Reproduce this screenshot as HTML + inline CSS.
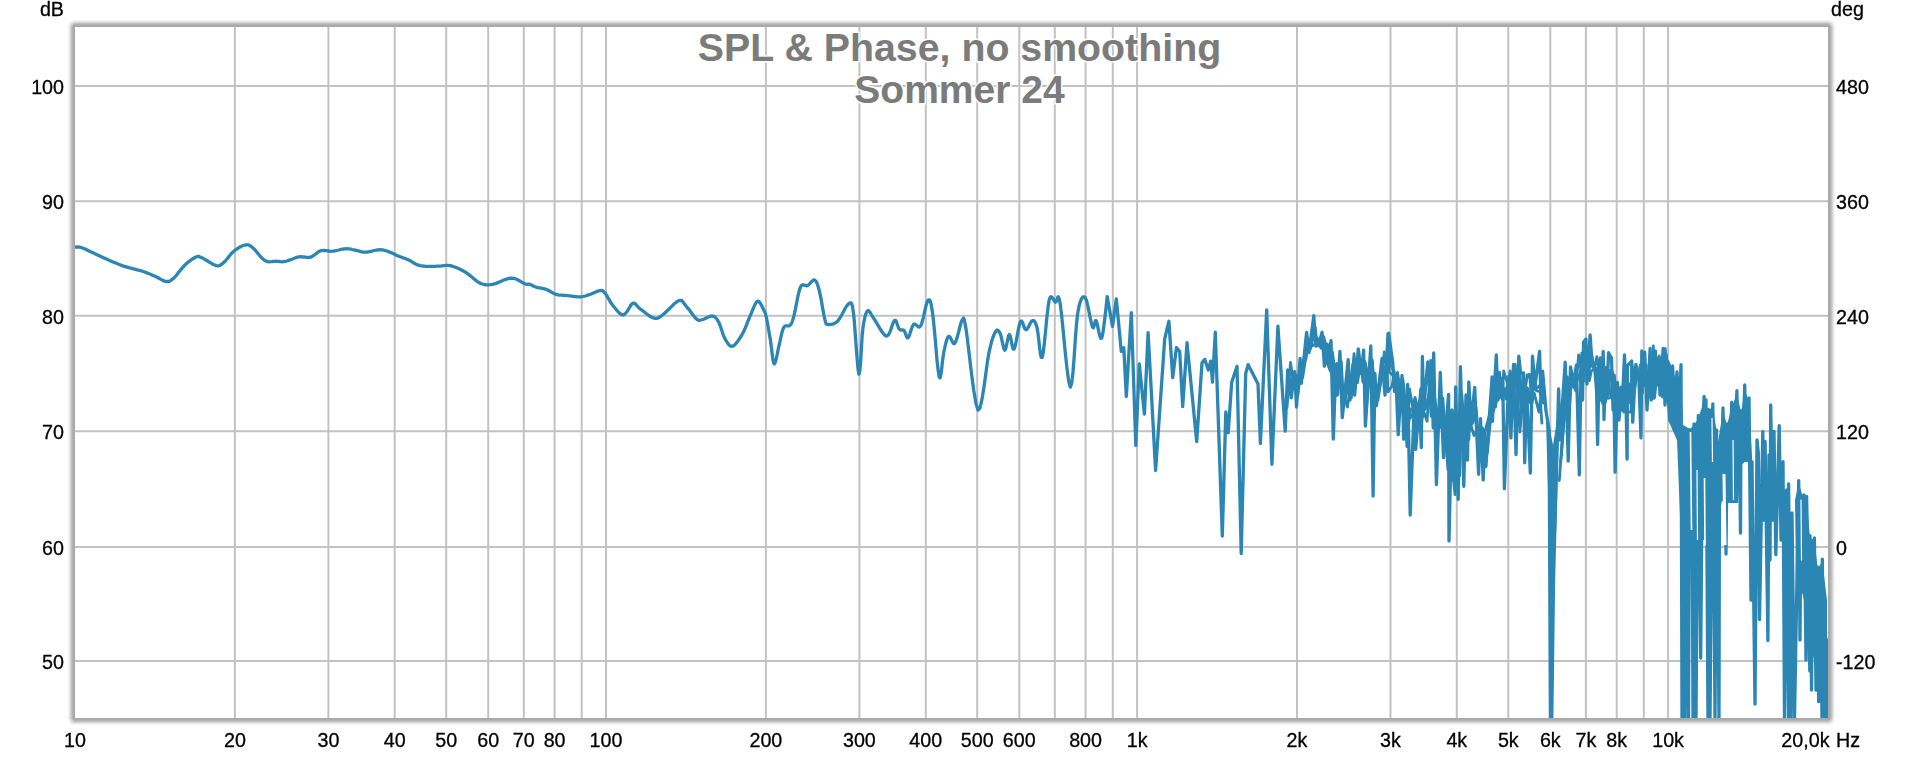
<!DOCTYPE html>
<html><head><meta charset="utf-8"><title>SPL &amp; Phase</title>
<style>html,body{margin:0;padding:0;background:#fff;overflow:hidden}svg{display:block}</style>
</head><body>
<svg width="1920" height="758" viewBox="0 0 1920 758"><rect x="0" y="0" width="1920" height="758" fill="#ffffff"/><rect x="74.5" y="26.5" width="1754.0" height="692.0" fill="none" stroke="#a8a8a8" stroke-width="1" rx="0"/><rect x="73.5" y="25.5" width="1756.0" height="694.0" fill="none" stroke="#ababab" stroke-width="1" rx="0"/><rect x="72.5" y="24.5" width="1758.0" height="696.0" fill="none" stroke="#b3b3b3" stroke-width="1" rx="1"/><rect x="71.5" y="23.5" width="1760.0" height="698.0" fill="none" stroke="#c2c2c2" stroke-width="1" rx="2"/><rect x="70.5" y="22.5" width="1762.0" height="700.0" fill="none" stroke="#d5d5d5" stroke-width="1" rx="3"/><rect x="69.5" y="21.5" width="1764.0" height="702.0" fill="none" stroke="#e7e7e7" stroke-width="1" rx="4"/><rect x="68.5" y="20.5" width="1766.0" height="704.0" fill="none" stroke="#f5f5f5" stroke-width="1" rx="5"/><rect x="75.0" y="27.0" width="1753.0" height="691.0" fill="#ffffff"/><path d="M234.9 27.0V718.0 M328.4 27.0V718.0 M394.7 27.0V718.0 M446.2 27.0V718.0 M488.2 27.0V718.0 M523.8 27.0V718.0 M554.6 27.0V718.0 M581.7 27.0V718.0 M606.0 27.0V718.0 M765.9 27.0V718.0 M859.4 27.0V718.0 M925.8 27.0V718.0 M977.2 27.0V718.0 M1019.3 27.0V718.0 M1054.8 27.0V718.0 M1085.6 27.0V718.0 M1112.8 27.0V718.0 M1137.1 27.0V718.0 M1297.0 27.0V718.0 M1390.5 27.0V718.0 M1456.8 27.0V718.0 M1508.3 27.0V718.0 M1550.3 27.0V718.0 M1585.9 27.0V718.0 M1616.7 27.0V718.0 M1643.8 27.0V718.0 M1668.1 27.0V718.0 M75.0 85.9H1828.0 M75.0 201.3H1828.0 M75.0 315.7H1828.0 M75.0 431.3H1828.0 M75.0 546.9H1828.0 M75.0 661.0H1828.0" stroke="#c2c2c2" stroke-width="2" fill="none"/><g font-family="Liberation Sans, sans-serif" font-weight="bold" font-size="39.3" fill="#7b7b7b" text-anchor="middle" stroke="#ffffff" stroke-width="3" paint-order="stroke"><text x="959.5" y="61">SPL &amp; Phase, no smoothing</text><text x="959.5" y="102.7" font-size="39">Sommer 24</text></g><clipPath id="pc"><rect x="75.0" y="27.0" width="1753.0" height="691.0"/></clipPath><g clip-path="url(#pc)" stroke="#2b86b3" fill="none" stroke-linejoin="round" stroke-linecap="round"><path d="M75.0 247.2 L75.6 247.2 L76.3 247.1 L77.3 247.0 L78.4 247.0 L79.7 247.1 L81.2 247.5 L83.1 248.2 L85.2 249.1 L87.5 250.2 L90.0 251.4 L92.5 252.6 L95.0 253.8 L97.6 254.9 L100.3 256.2 L103.0 257.5 L105.8 258.8 L108.6 260.1 L111.2 261.2 L113.8 262.3 L116.3 263.3 L118.8 264.3 L121.2 265.2 L123.7 266.1 L126.2 266.9 L128.9 267.7 L131.7 268.4 L134.5 269.1 L137.3 269.8 L140.0 270.5 L142.5 271.2 L144.8 272.0 L147.0 272.9 L149.1 273.7 L151.1 274.5 L153.0 275.4 L155.0 276.2 L157.0 277.2 L159.0 278.3 L160.9 279.4 L162.8 280.4 L164.6 281.1 L166.2 281.5 L167.7 281.5 L168.9 281.4 L170.0 280.9 L171.1 280.3 L172.3 279.3 L173.8 278.1 L175.4 276.4 L177.2 274.3 L179.1 271.8 L181.1 269.4 L183.1 267.0 L185.0 265.0 L186.9 263.3 L188.9 261.6 L190.9 260.1 L192.9 258.7 L194.7 257.7 L196.2 256.9 L197.5 256.5 L198.4 256.4 L199.2 256.5 L200.0 256.9 L201.1 257.4 L202.5 258.1 L204.4 259.1 L206.8 260.5 L209.3 262.1 L211.9 263.7 L214.2 264.9 L216.2 265.6 L217.8 265.8 L219.1 265.7 L220.2 265.2 L221.3 264.5 L222.4 263.6 L223.8 262.5 L225.3 261.0 L226.9 259.2 L228.5 257.1 L230.2 254.9 L232.0 252.9 L233.8 251.2 L235.6 249.8 L237.5 248.5 L239.5 247.3 L241.5 246.2 L243.3 245.5 L245.0 245.0 L246.4 244.8 L247.6 244.8 L248.7 245.0 L249.8 245.6 L251.0 246.4 L252.5 247.5 L254.3 249.2 L256.3 251.5 L258.5 254.2 L260.7 256.8 L262.9 259.0 L265.0 260.6 L267.0 261.4 L268.9 261.8 L270.9 261.7 L272.7 261.5 L274.5 261.3 L276.2 261.2 L277.8 261.4 L279.2 261.5 L280.5 261.7 L281.8 261.8 L283.3 261.7 L285.0 261.5 L287.1 261.0 L289.4 260.1 L291.9 259.2 L294.4 258.2 L296.7 257.4 L298.8 256.9 L300.5 256.7 L302.2 256.8 L303.7 257.0 L305.0 257.2 L306.3 257.4 L307.5 257.5 L308.5 257.4 L309.3 257.4 L310.0 257.3 L310.7 257.1 L311.5 256.7 L312.5 256.2 L313.7 255.5 L315.0 254.5 L316.5 253.3 L318.0 252.2 L319.6 251.2 L321.2 250.6 L323.0 250.4 L324.8 250.5 L326.6 250.7 L328.6 251.0 L330.5 251.3 L332.5 251.2 L334.6 251.0 L336.7 250.5 L338.9 250.0 L341.1 249.4 L343.1 249.0 L345.0 248.8 L346.6 248.7 L348.1 248.8 L349.5 248.9 L350.8 249.2 L352.2 249.5 L353.8 249.8 L355.5 250.1 L357.2 250.7 L359.1 251.2 L361.0 251.7 L363.0 252.1 L365.0 252.2 L367.2 252.1 L369.6 251.6 L372.0 251.1 L374.4 250.5 L376.7 250.0 L378.8 249.8 L380.5 249.7 L381.9 249.8 L383.3 250.0 L384.6 250.3 L386.0 250.8 L387.5 251.2 L389.3 251.9 L391.2 252.7 L393.1 253.6 L395.1 254.6 L397.0 255.5 L398.8 256.2 L400.3 256.8 L401.7 257.3 L403.0 257.8 L404.4 258.2 L405.9 258.7 L407.5 259.4 L409.3 260.3 L411.2 261.4 L413.2 262.7 L415.3 263.8 L417.6 264.9 L420.0 265.6 L422.7 266.0 L425.6 266.3 L428.8 266.4 L431.9 266.3 L434.8 266.3 L437.5 266.2 L439.8 266.1 L441.9 265.9 L443.9 265.6 L445.8 265.4 L447.8 265.3 L450.0 265.6 L452.4 266.2 L454.8 267.0 L457.3 268.0 L459.9 269.2 L462.5 270.5 L465.0 271.9 L467.5 273.6 L470.1 275.6 L472.7 277.8 L475.2 279.9 L477.6 281.7 L480.0 283.1 L482.2 284.0 L484.1 284.5 L486.0 284.8 L488.0 284.9 L490.1 284.7 L492.5 284.4 L495.3 283.7 L498.5 282.4 L501.8 281.0 L505.1 279.6 L508.3 278.5 L511.2 278.1 L513.9 278.4 L516.5 279.3 L519.0 280.5 L521.2 281.8 L523.3 283.0 L525.0 283.8 L526.3 284.1 L527.3 284.3 L528.0 284.2 L528.6 284.2 L529.2 284.2 L530.0 284.4 L530.9 284.8 L531.9 285.2 L532.8 285.7 L533.8 286.3 L535.0 286.8 L536.2 287.2 L537.7 287.6 L539.3 287.9 L541.0 288.2 L542.8 288.5 L544.5 288.9 L546.2 289.4 L547.9 290.1 L549.5 291.0 L551.2 292.0 L552.8 292.9 L554.5 293.8 L556.2 294.4 L558.0 294.8 L559.9 295.1 L561.7 295.2 L563.6 295.3 L565.5 295.4 L567.5 295.6 L569.5 295.9 L571.7 296.2 L573.8 296.5 L576.0 296.7 L578.0 296.9 L580.0 296.9 L581.8 296.7 L583.5 296.4 L585.2 296.0 L586.8 295.5 L588.4 294.9 L590.0 294.4 L591.7 293.8 L593.5 293.0 L595.3 292.2 L597.0 291.4 L598.6 290.9 L600.0 290.6 L601.1 290.5 L601.9 290.6 L602.7 290.9 L603.3 291.3 L604.1 292.1 L605.0 293.1 L606.1 294.6 L607.3 296.5 L608.5 298.6 L609.8 300.9 L611.1 303.1 L612.5 305.0 L613.9 306.8 L615.5 308.7 L617.0 310.6 L618.6 312.2 L620.0 313.5 L621.2 314.4 L622.3 314.8 L623.1 314.9 L623.9 314.6 L624.6 314.1 L625.4 313.4 L626.2 312.5 L627.3 311.2 L628.4 309.4 L629.6 307.3 L630.7 305.4 L631.9 303.9 L633.1 303.1 L634.2 303.1 L635.1 303.7 L636.1 304.8 L637.2 306.0 L638.5 307.4 L640.0 308.8 L642.0 310.2 L644.3 312.1 L646.8 314.0 L649.3 315.8 L651.7 317.2 L653.8 318.1 L655.4 318.4 L656.8 318.4 L658.0 318.0 L659.2 317.3 L660.7 316.3 L662.5 315.0 L664.9 313.0 L667.7 310.3 L670.7 307.3 L673.7 304.3 L676.5 302.0 L678.8 300.6 L680.5 300.3 L681.8 300.7 L682.9 301.7 L683.9 303.1 L685.0 304.7 L686.2 306.2 L687.8 308.1 L689.6 310.3 L691.4 312.8 L693.2 315.2 L694.8 317.2 L696.2 318.8 L697.3 319.7 L698.1 320.2 L698.7 320.4 L699.3 320.4 L700.1 320.2 L701.2 320.0 L702.8 319.5 L704.7 318.7 L706.8 317.7 L708.9 316.7 L710.8 316.1 L712.5 316.0 L713.8 316.4 L715.0 317.0 L715.9 318.0 L716.9 319.2 L717.8 320.7 L718.8 322.5 L719.8 324.7 L720.8 327.5 L721.8 330.6 L722.8 333.6 L723.9 336.4 L725.0 338.8 L726.1 340.7 L727.3 342.6 L728.5 344.3 L729.8 345.6 L731.1 346.3 L732.5 346.2 L734.1 345.4 L735.7 343.8 L737.5 341.6 L739.3 339.0 L740.9 336.4 L742.5 333.8 L743.9 331.1 L745.2 328.2 L746.4 325.2 L747.6 322.1 L748.8 319.1 L750.0 316.2 L751.3 313.3 L752.5 310.2 L753.8 307.1 L755.1 304.4 L756.3 302.3 L757.5 301.2 L758.7 301.4 L759.8 302.5 L760.9 304.2 L762.0 306.3 L762.9 308.4 L763.8 310.0 L764.4 311.1 L764.8 312.0 L765.2 312.8 L765.5 313.7 L765.8 315.1 L766.3 317.2 L766.9 320.0 L767.5 323.4 L768.2 327.2 L768.9 331.3 L769.6 335.4 L770.3 339.4 L770.9 343.8 L771.6 349.0 L772.2 354.2 L772.8 358.8 L773.5 362.3 L774.2 363.9 L774.9 363.3 L775.7 361.0 L776.5 357.5 L777.4 353.3 L778.2 349.2 L779.0 345.7 L779.8 342.5 L780.5 339.0 L781.2 335.6 L782.0 332.4 L782.8 329.6 L783.7 327.5 L784.7 326.3 L785.8 325.8 L787.0 325.8 L788.1 325.9 L789.2 325.8 L790.1 325.2 L790.9 324.3 L791.5 323.3 L792.0 322.1 L792.6 320.5 L793.2 318.5 L794.0 315.7 L794.9 311.7 L795.9 306.6 L797.0 301.0 L798.1 295.4 L799.3 290.6 L800.4 287.2 L801.5 285.4 L802.7 284.8 L803.9 285.0 L805.1 285.4 L806.3 285.8 L807.5 285.6 L808.7 284.7 L810.0 283.4 L811.2 282.0 L812.4 280.8 L813.5 280.0 L814.6 280.0 L815.5 280.7 L816.3 281.8 L817.1 283.4 L817.8 285.5 L818.6 288.0 L819.4 291.1 L820.3 295.1 L821.3 300.2 L822.2 305.7 L823.2 311.2 L824.1 316.0 L824.9 319.6 L825.5 321.9 L825.9 323.3 L826.3 324.0 L826.7 324.3 L827.2 324.3 L828.1 324.4 L829.3 324.5 L830.7 324.5 L832.4 324.2 L834.1 323.6 L835.9 322.6 L837.6 321.2 L839.4 318.8 L841.4 315.5 L843.4 311.8 L845.3 308.2 L847.1 305.4 L848.6 303.8 L849.8 303.1 L850.6 302.8 L851.3 303.2 L852.0 304.7 L852.6 307.7 L853.4 312.5 L854.3 321.0 L855.2 333.1 L856.2 346.8 L857.2 359.6 L858.1 369.5 L858.9 374.2 L859.6 372.4 L860.3 365.8 L861.0 356.2 L861.6 345.5 L862.2 335.5 L862.9 328.3 L863.6 323.5 L864.4 319.5 L865.1 316.2 L865.9 313.8 L866.7 312.0 L867.6 310.9 L868.5 310.6 L869.4 311.3 L870.3 312.7 L871.3 314.5 L872.6 316.6 L874.0 318.8 L875.8 321.5 L877.9 325.1 L880.2 329.0 L882.5 332.5 L884.7 335.1 L886.6 336.2 L888.2 335.2 L889.7 332.5 L891.1 328.8 L892.3 325.1 L893.5 322.0 L894.6 320.4 L895.6 320.5 L896.4 321.7 L897.1 323.7 L897.8 325.8 L898.5 327.8 L899.3 329.1 L900.1 329.7 L900.9 330.0 L901.8 330.0 L902.6 330.0 L903.4 330.2 L904.1 330.7 L904.8 331.8 L905.4 333.4 L906.0 335.2 L906.6 336.7 L907.3 337.7 L908.0 337.8 L908.8 336.6 L909.7 334.3 L910.6 331.5 L911.6 328.5 L912.6 326.0 L913.6 324.4 L914.7 324.1 L915.9 324.8 L917.1 325.9 L918.3 326.8 L919.5 327.0 L920.7 325.9 L921.9 322.8 L923.2 318.1 L924.4 312.6 L925.6 307.3 L926.8 303.0 L927.8 300.6 L928.7 299.8 L929.5 299.9 L930.2 300.9 L930.9 303.3 L931.6 307.0 L932.5 312.5 L933.5 321.2 L934.7 333.4 L935.9 347.0 L937.0 360.1 L938.2 370.7 L939.2 376.9 L940.1 377.8 L940.9 374.9 L941.6 369.5 L942.3 362.9 L943.1 356.7 L943.8 352.0 L944.6 348.6 L945.3 345.2 L946.1 342.1 L946.9 339.5 L947.7 337.5 L948.5 336.3 L949.4 336.4 L950.3 337.6 L951.3 339.5 L952.3 341.5 L953.2 343.1 L954.0 343.7 L954.7 343.3 L955.3 342.4 L955.9 341.0 L956.5 339.3 L957.1 337.4 L957.7 335.4 L958.4 332.9 L959.2 329.8 L960.0 326.5 L960.8 323.4 L961.6 321.0 L962.3 319.7 L962.9 319.0 L963.3 318.3 L963.7 318.2 L964.2 319.6 L964.9 322.9 L966.0 328.9 L967.5 339.9 L969.4 355.8 L971.5 373.7 L973.8 390.7 L976.0 403.8 L978.0 410.1 L980.0 408.0 L981.9 399.7 L983.9 387.4 L985.8 373.7 L987.5 361.1 L989.1 352.0 L990.5 346.2 L991.6 341.6 L992.7 338.1 L993.7 335.4 L994.6 333.4 L995.5 331.7 L996.4 330.5 L997.2 330.1 L998.0 330.3 L998.7 331.0 L999.4 332.1 L1000.2 333.5 L1001.0 335.8 L1001.7 339.2 L1002.5 342.9 L1003.3 346.5 L1004.0 349.1 L1004.8 350.2 L1005.6 349.1 L1006.3 346.2 L1007.1 342.5 L1007.9 338.7 L1008.6 335.7 L1009.4 334.5 L1010.1 335.7 L1010.9 338.7 L1011.6 342.6 L1012.3 346.3 L1013.1 348.9 L1014.0 349.2 L1015.0 346.6 L1016.1 341.8 L1017.2 335.7 L1018.3 329.6 L1019.5 324.5 L1020.5 321.5 L1021.5 321.0 L1022.4 322.2 L1023.2 324.5 L1024.1 327.0 L1025.0 329.0 L1026.0 329.8 L1027.0 329.1 L1028.2 327.4 L1029.3 325.3 L1030.4 323.1 L1031.5 321.4 L1032.5 320.6 L1033.4 320.6 L1034.2 321.0 L1034.9 321.9 L1035.6 323.3 L1036.3 325.3 L1037.1 328.0 L1037.9 332.6 L1038.7 339.4 L1039.5 346.8 L1040.3 353.3 L1041.2 357.3 L1042.2 357.5 L1043.3 352.3 L1044.4 342.7 L1045.6 330.6 L1046.8 318.2 L1048.0 307.4 L1049.1 300.3 L1050.2 297.2 L1051.3 296.6 L1052.4 297.6 L1053.5 299.5 L1054.5 301.3 L1055.5 302.2 L1056.3 301.4 L1057.0 299.5 L1057.6 297.5 L1058.2 296.7 L1059.0 298.2 L1060.1 303.1 L1061.5 314.1 L1063.2 330.8 L1065.0 349.8 L1066.9 367.7 L1068.7 381.3 L1070.3 387.1 L1071.7 383.2 L1073.0 372.0 L1074.2 356.4 L1075.3 339.4 L1076.5 324.0 L1077.7 313.2 L1078.9 306.7 L1080.2 302.0 L1081.4 298.9 L1082.6 297.2 L1083.9 296.8 L1085.1 297.5 L1086.4 300.2 L1087.7 305.3 L1089.0 311.7 L1090.3 318.2 L1091.5 323.7 L1092.5 327.1 L1093.3 327.8 L1093.9 326.7 L1094.4 324.6 L1094.9 322.3 L1095.4 320.7 L1096.1 320.6 L1096.9 322.8 L1097.8 326.9 L1098.8 331.6 L1099.8 335.8 L1100.7 338.4 L1101.7 338.2 L1102.7 334.2 L1103.7 327.2 L1104.8 318.5 L1105.8 309.6 L1106.6 301.8 L1107.2 296.6 L1112.5 326.4 L1116.3 298.8 L1121.3 351.4 L1123.8 347.7 L1126.3 396.5 L1131.3 312.6 L1135.8 445.4 L1139.3 364.0 L1144.4 414.1 L1148.1 332.6 L1155.6 470.5 L1164.7 338.9 L1168.9 321.3 L1172.7 377.7 L1176.4 347.7 L1179.7 351.4 L1182.7 406.6 L1187.0 342.6 L1196.7 441.6 L1202.0 362.9 L1204.8 359.4 L1208.3 370.0 L1210.7 361.2 L1212.5 382.2 L1215.3 332.2 L1222.3 536.0 L1225.8 411.9 L1228.2 432.9 L1231.7 382.2 L1237.0 366.4 L1241.2 553.5 L1245.7 373.4 L1248.1 364.7 L1252.7 373.4 L1258.0 383.9 L1260.4 443.4 L1266.7 309.8 L1271.9 464.3 L1277.9 326.2 L1285.2 431.1 L1287.7 369.9 L1291.2 397.9 L1294.7 371.7 L1296.5 407.0 L1300.1 358.4 L1301.3 383.4 L1306.6 332.3 L1309.0 352.5 L1313.8 315.7 L1315.5 344.2 L1317.0 338.0 L1318.5 345.4 L1322.1 332.3 L1324.4 366.2 L1326.8 344.2 L1328.0 363.2 L1331.0 340.6 L1333.3 439.0 L1335.7 371.5 L1337.5 395.0 L1339.9 351.3 L1342.3 417.7 L1348.2 359.6 L1350.0 400.0 L1352.9 364.4 L1354.7 395.1 L1358.3 349.0 L1361.3 373.9 L1363.6 350.1 L1365.4 426.0 L1370.8 346.0 L1373.1 496.0 L1374.9 373.3 L1376.5 405.5 L1382.0 358.4 L1385.0 395.1 L1388.0 333.5 L1388.6 333.3 L1392.8 363.0 L1394.5 391.5 L1396.0 380.0 L1398.2 434.6 L1402.0 375.5 L1403.7 439.2 L1407.6 384.4 L1410.2 515.0 L1414.4 399.8 L1415.7 449.4 L1419.5 401.0 L1421.3 447.5 L1422.4 356.5 L1423.6 409.3 L1427.8 361.8 L1431.4 416.1 L1433.7 352.9 L1436.4 484.5 L1440.3 372.5 L1443.5 457.7 L1448.6 394.5 L1449.0 540.9 L1452.0 410.0 L1454.5 482.6 L1455.7 386.8 L1458.2 499.3 L1460.4 366.6 L1463.8 486.3 L1466.0 395.0 L1467.5 460.0 L1468.8 382.0 L1471.1 423.5 L1474.7 387.4 L1478.6 474.3 L1480.5 418.7 L1483.2 479.9 L1485.0 440.0 L1485.9 466.5 L1492.1 377.0 L1492.4 421.3 L1496.3 355.0 L1498.0 400.0 L1499.3 372.3 L1501.0 395.0 L1502.8 383.0 L1504.4 488.7 L1508.8 376.4 L1510.9 437.9 L1513.5 364.5 L1516.0 454.5 L1518.8 356.2 L1520.6 373.4 L1523.6 372.9 L1524.7 462.8 L1526.6 391.3 L1528.0 420.0 L1530.3 473.0 L1532.5 356.2 L1534.9 386.5 L1539.6 351.5 L1541.0 400.0 L1542.6 371.1 L1546.0 411.1 L1549.1 430.0 L1550.5 740.0 L1551.5 740.0 L1553.5 581.0 L1555.0 522.0 L1556.5 470.0 L1558.6 388.9 L1560.0 440.0 L1565.2 362.2 L1566.5 400.0 L1568.2 461.0 L1570.5 366.9 L1573.5 384.1 L1576.4 365.1 L1579.3 474.9 L1581.2 360.4 L1582.5 400.0 L1583.6 342.0 L1585.9 339.0 L1587.0 384.0 L1590.1 334.8 L1591.9 361.6 L1594.8 368.7 L1596.6 391.3 L1597.6 444.4 L1599.0 368.7 L1601.0 400.0 L1603.2 351.5 L1604.0 419.4 L1605.5 367.5 L1607.0 395.0 L1608.5 352.7 L1611.5 358.0 L1613.0 410.0 L1613.8 386.5 L1615.1 472.1 L1617.4 382.4 L1619.0 420.0 L1621.0 387.1 L1622.0 410.0 L1624.5 355.0 L1626.0 400.0 L1627.1 459.1 L1627.5 365.7 L1631.7 361.0 L1632.7 422.2 L1635.8 364.5 L1638.8 377.0 L1641.0 437.9 L1641.8 350.9 L1643.0 384.0 L1644.7 352.1 L1647.0 410.0 L1650.1 348.5 L1651.2 400.0 L1652.4 352.1 L1654.0 398.0 L1655.4 350.9 L1656.5 385.0 L1658.4 358.0 L1660.0 395.0 L1663.1 348.5 L1665.0 405.0 L1667.9 361.6 L1669.6 417.6 L1665.0 348.7 L1667.0 400.0 L1669.3 366.0 L1670.8 415.0 L1672.6 366.0 L1674.5 405.0 L1677.0 372.0 L1678.5 440.0 L1681.0 364.6 L1682.0 718.0 L1683.8 430.0 L1685.0 718.0 L1687.0 440.0 L1688.5 718.0 L1689.6 430.0 L1690.5 537.0 L1692.0 464.0 L1693.0 718.0 L1694.0 424.0 L1696.0 718.0 L1698.3 415.4 L1700.7 658.0 L1702.5 430.0 L1704.1 396.5 L1705.0 480.0 L1706.0 400.0 L1708.0 718.0 L1708.5 409.6 L1710.0 718.0 L1712.8 403.8 L1715.0 718.0 L1716.5 430.0 L1719.0 718.0 L1719.5 453.0 L1721.0 500.0 L1723.0 408.0 L1724.0 500.0 L1725.0 430.0 L1726.0 554.0 L1727.3 424.0 L1729.0 500.0 L1731.7 402.3 L1733.0 490.0 L1736.9 390.7 L1738.0 480.0 L1739.0 410.0 L1740.5 533.0 L1741.0 411.0 L1742.5 462.0 L1744.7 385.0 L1746.0 450.0 L1749.0 398.0 L1751.0 600.0 L1752.0 461.7 L1755.0 704.0 L1757.0 440.0 L1758.4 453.7 L1759.5 619.6 L1762.8 431.3 L1764.0 520.0 L1765.1 441.4 L1767.9 640.5 L1769.0 455.0 L1770.0 560.0 L1770.7 405.0 L1772.5 520.0 L1774.0 431.3 L1775.8 554.6 L1779.2 425.7 L1781.0 540.0 L1783.0 461.6 L1784.5 718.0 L1786.5 490.0 L1788.5 718.0 L1788.6 484.0 L1791.0 718.0 L1792.0 513.0 L1794.5 718.0 L1798.7 480.6 L1800.0 640.0 L1801.0 500.0 L1802.9 564.0 L1804.0 495.0 L1806.0 660.0 L1806.6 496.3 L1809.8 671.0 L1810.0 535.6 L1811.5 690.0 L1812.5 560.0 L1813.5 615.0 L1814.4 537.8 L1816.0 690.0 L1817.8 567.0 L1818.6 701.5 L1820.0 580.0 L1822.0 718.0 L1822.3 559.1 L1824.0 718.0 L1825.0 600.0 L1826.5 718.0 L1828.0 640.0" stroke-width="3.3"/><path d="M1289.1 383.9 L1292.6 384.8 L1296.1 377.5 L1297.9 395.2 L1301.5 365.0 L1302.7 377.5 L1308.0 342.4 L1310.4 348.9 L1315.2 326.9 L1316.9 344.2 L1318.4 341.1 L1319.9 344.8 L1323.5 338.2 L1325.8 355.2 L1328.2 344.8 L1329.4 363.2 L1332.4 351.9 L1334.7 382.2 L1337.1 371.5 L1338.9 383.2 L1341.3 361.4 L1343.7 406.4 L1349.6 379.1 L1351.4 397.6 L1354.3 369.1 L1356.1 379.8 L1359.7 361.4 L1362.7 369.1 L1365.0 362.0 L1366.8 389.3 L1372.2 359.9 L1374.5 389.3 L1376.3 389.5 L1377.9 400.3 L1383.4 365.9 L1386.4 379.0 L1389.4 348.2 L1390.0 364.0 L1394.2 371.5 L1395.9 385.8 L1397.4 380.0 L1399.6 400.4 L1403.4 383.5 L1405.1 407.5 L1409.0 418.6 L1411.6 417.0 L1415.8 404.6 L1417.1 425.3 L1420.9 405.1 L1422.7 417.0 L1423.8 393.3 L1425.0 409.3 L1429.2 393.3 L1432.8 388.5 L1435.1 400.1 L1437.8 432.1 L1441.7 400.1 L1444.9 426.0 L1450.0 441.7 L1450.4 473.7 L1453.4 441.7 L1455.9 482.6 L1457.1 466.6 L1459.6 476.0 L1461.8 394.0 L1465.2 439.5 L1467.4 409.2 L1468.9 439.5 L1470.2 407.5 L1472.5 423.5 L1476.1 407.5 L1480.0 456.0 L1481.9 429.4 L1484.6 456.0 L1486.4 440.0 L1487.3 453.2 L1493.5 388.5 L1493.8 410.6 L1497.7 379.0 L1499.4 397.5 L1500.7 377.6 L1502.4 395.0 L1504.2 389.0 L1505.8 399.0 L1510.2 379.7 L1512.3 399.0 L1514.9 370.4 L1517.4 392.4 L1520.2 375.3 L1522.0 404.0 L1525.0 382.1 L1526.1 407.3 L1528.0 388.9 L1529.4 402.5 L1531.7 402.5 L1533.9 375.3 L1536.3 388.9 L1541.0 384.0 L1542.4 400.0 L1544.0 395.1" stroke-width="2.80"/><path d="M1561.4 455.0 L1566.6 384.0 L1567.9 394.4 L1569.6 404.9 L1571.9 375.5 L1574.9 384.1 L1577.8 374.6 L1580.7 382.9 L1582.6 362.8 L1583.9 381.1 L1585.0 351.8 L1587.3 352.1 L1588.4 376.4 L1591.5 352.7 L1593.3 365.1 L1596.2 368.7 L1598.0 380.0 L1599.0 384.7 L1600.4 368.7 L1602.4 384.4 L1604.6 375.3 L1605.4 402.5 L1606.9 379.4 L1608.4 395.0 L1609.9 370.5 L1612.9 372.6 L1614.4 398.6 L1615.2 390.8 L1616.5 403.1 L1618.8 391.2 L1620.4 410.0 L1622.4 393.6 L1623.4 405.0 L1625.9 384.0 L1627.4 393.6 L1628.5 403.1 L1628.9 384.0 L1633.1 384.0 L1634.1 393.0 L1637.2 370.8 L1640.2 377.0 L1642.4 393.0 L1643.2 368.0 L1644.4 380.5 L1646.1 364.6 L1648.4 397.0 L1651.5 368.0 L1652.6 392.0 L1653.8 368.1 L1655.4 374.0 L1656.8 369.0 L1657.9 385.0 L1659.8 359.8 L1661.4 380.5 L1664.5 369.0 L1666.4 382.0 L1669.3 363.8 L1671.0 406.3 L1666.4 357.4 L1668.4 382.0 L1670.7 380.5" stroke-width="2.80"/><path d="M1287.0 407.7 L1290.5 362.5 L1294.0 387.5 L1295.8 375.1 L1299.4 376.4 L1300.6 367.6 L1305.9 359.6 L1308.3 342.9 L1313.1 345.8 L1314.8 344.2 L1316.3 346.4 L1317.8 343.8 L1321.4 348.4 L1323.7 336.5 L1326.1 345.8 L1327.3 363.2 L1330.3 371.1 L1332.6 354.2 L1335.0 371.5 L1336.8 363.3 L1339.2 378.6 L1341.6 387.1 L1347.5 407.1 L1349.3 393.4 L1352.2 377.2 L1354.0 353.7 L1357.6 382.6 L1360.6 361.1 L1362.9 382.2 L1364.7 361.3 L1370.1 383.7 L1372.4 361.3 L1374.2 416.8 L1375.8 391.5 L1381.3 378.5 L1384.3 351.8 L1387.3 373.3 L1387.9 392.0 L1392.1 385.9 L1393.8 376.0 L1395.3 380.0 L1397.5 372.4 L1401.3 397.1 L1403.0 379.5 L1406.9 446.6 L1409.5 389.0 L1413.7 412.6 L1415.0 397.3 L1418.8 412.2 L1420.6 389.0 L1421.7 421.3 L1422.9 409.3 L1427.1 421.3 L1430.7 360.5 L1433.0 428.1 L1435.7 404.1 L1439.6 428.1 L1442.8 398.0 L1447.9 469.7 L1448.3 445.7 L1451.3 469.7 L1453.8 482.6 L1455.0 494.6 L1457.5 448.0 L1459.7 422.0 L1463.1 411.5 L1465.3 433.5 L1466.8 411.5 L1468.1 435.5 L1470.4 423.5 L1474.0 435.5 L1477.9 428.0 L1479.8 447.5 L1482.5 428.0 L1484.3 440.0 L1485.2 430.7 L1491.4 408.1 L1491.7 392.5 L1495.6 407.0 L1497.3 393.2 L1498.6 386.7 L1500.3 395.0 L1502.1 399.2 L1503.7 371.0 L1508.1 385.3 L1510.2 371.0 L1512.8 380.6 L1515.3 364.4 L1518.1 403.3 L1519.9 432.0 L1522.9 397.7 L1524.0 379.3 L1525.9 384.8 L1527.3 374.8 L1529.6 374.5 L1531.8 403.3 L1534.2 393.0 L1538.9 412.0 L1540.3 400.0 L1541.9 423.1" stroke-width="2.80"/><path d="M1559.3 480.5 L1564.5 412.0 L1565.8 385.0 L1567.5 376.9 L1569.8 390.1 L1572.8 384.1 L1575.7 390.8 L1578.6 354.9 L1580.5 366.7 L1581.8 353.1 L1582.9 368.5 L1585.2 374.2 L1586.3 363.3 L1589.4 380.6 L1591.2 371.2 L1594.1 368.7 L1595.9 360.8 L1596.9 356.7 L1598.3 368.7 L1600.3 357.7 L1602.5 403.3 L1603.3 375.0 L1604.8 399.6 L1606.3 395.0 L1607.8 398.3 L1610.8 397.3 L1612.3 379.1 L1613.1 398.0 L1614.4 375.1 L1616.7 406.2 L1618.3 393.0 L1620.3 404.5 L1621.3 396.5 L1623.8 412.0 L1625.3 382.6 L1626.4 375.1 L1626.8 412.0 L1631.0 412.0 L1632.0 365.0 L1635.1 381.4 L1638.1 377.0 L1640.3 365.0 L1641.1 395.6 L1642.3 374.6 L1644.0 385.7 L1646.3 374.9 L1649.4 396.0 L1650.5 378.4 L1651.7 395.2 L1653.3 346.0 L1654.7 396.9 L1655.8 385.0 L1657.7 362.9 L1659.3 355.9 L1662.4 397.0 L1664.3 354.0 L1667.2 367.5 L1668.9 387.1 L1664.3 372.1 L1666.3 354.1 L1668.6 405.1" stroke-width="2.80"/><path d="M1288.3 390.9 L1291.8 378.2 L1295.3 380.5 L1297.1 389.3 L1300.7 368.4 L1301.9 374.6 L1307.2 347.4 L1309.6 347.2 L1314.4 332.4 L1316.1 344.2 L1317.6 342.6 L1319.1 344.5 L1322.7 341.2 L1325.0 349.7 L1327.4 345.1 L1328.6 363.2 L1331.6 357.6 L1333.9 374.2 L1336.3 371.5 L1338.1 377.4 L1340.5 366.4 L1342.9 400.7 L1348.8 387.1 L1350.6 396.3 L1353.5 371.5 L1355.3 372.1 L1358.9 367.7 L1361.9 366.8 L1364.2 367.9 L1366.0 381.3 L1371.4 366.9 L1373.7 381.3 L1375.5 397.5 L1377.1 397.7 L1382.6 369.6 L1385.6 371.0 L1388.6 355.6 L1389.2 372.0 L1393.4 375.8 L1395.1 382.9 L1396.6 380.0 L1398.8 392.4 L1402.6 387.5 L1404.3 399.5 L1408.2 426.6 L1410.8 409.0 L1415.0 406.9 L1416.3 417.3 L1420.1 407.2 L1421.9 409.0 L1423.0 401.3 L1424.2 409.3 L1428.4 401.3 L1432.0 380.5 L1434.3 408.1 L1437.0 424.1 L1440.9 408.1 L1444.1 418.0 L1449.2 449.7 L1449.6 465.7 L1452.6 449.7 L1455.1 482.6 L1456.3 474.6 L1458.8 468.0 L1461.0 402.0 L1464.4 431.5 L1466.6 416.4 L1468.1 431.5 L1469.4 415.5 L1471.7 423.5 L1475.3 415.5 L1479.2 448.0 L1481.1 434.7 L1483.8 448.0 L1485.6 440.0 L1486.5 446.6 L1492.7 394.2 L1493.0 405.3 L1496.9 387.0 L1498.6 396.2 L1499.9 380.3 L1501.6 395.0 L1503.4 392.0 L1505.0 391.0 L1509.4 381.4 L1511.5 391.0 L1514.1 373.4 L1516.6 384.4 L1519.4 383.3 L1521.2 412.0 L1524.2 386.7 L1525.3 399.3 L1527.2 387.7 L1528.6 394.5 L1530.9 394.5 L1533.1 383.3 L1535.5 390.1 L1540.2 392.0 L1541.6 400.0 L1543.2 403.1" stroke-width="2.80"/><path d="M1560.6 462.5 L1565.8 392.0 L1567.1 391.7 L1568.8 396.9 L1571.1 379.8 L1574.1 384.1 L1577.0 379.4 L1579.9 374.9 L1581.8 363.9 L1583.1 373.1 L1584.2 356.7 L1586.5 358.6 L1587.6 372.5 L1590.7 360.7 L1592.5 366.9 L1595.4 368.7 L1597.2 374.4 L1598.2 376.7 L1599.6 368.7 L1601.6 376.5 L1603.8 383.3 L1604.6 394.5 L1606.1 385.4 L1607.6 395.0 L1609.1 378.5 L1612.1 379.8 L1613.6 392.8 L1614.4 392.9 L1615.7 395.1 L1618.0 395.6 L1619.6 405.0 L1621.6 396.8 L1622.6 402.5 L1625.1 392.0 L1626.6 390.3 L1627.7 395.1 L1628.1 392.0 L1632.3 392.0 L1633.3 385.0 L1636.4 373.9 L1639.4 377.0 L1641.6 385.0 L1642.4 376.0 L1643.6 378.8 L1645.3 370.8 L1647.6 390.5 L1650.7 376.0 L1651.8 388.0 L1653.0 376.0 L1654.6 366.0 L1656.0 377.0 L1657.1 385.0 L1659.0 360.7 L1660.6 373.2 L1663.7 377.0 L1665.6 374.0 L1668.5 364.9 L1670.2 400.6 L1665.6 361.7 L1667.6 374.0 L1669.9 387.8" stroke-width="2.80"/><path d="M1668 366 L1672 369 L1676 380 L1681 373 L1683 425 L1690 429 L1694 425 L1698 419 L1704 401 L1708 411 L1713 406 L1718 442 L1723 411 L1727 425 L1732 406 L1737 394 L1741 412 L1745 391 L1749 401 L1752 456 L1752 462 L1741 462 L1738 503 L1728 503 L1722 500 L1715 540 L1700 540 L1681 540 L1677 440 L1668 420 Z" fill="#2b86b3" stroke="none"/><path d="M1690.5 432 L1691.5 530" stroke="#ffffff" stroke-width="1.6" stroke-linecap="butt"/><path d="M1704.5 478 L1705 545" stroke="#ffffff" stroke-width="1.6" stroke-linecap="butt"/><path d="M1712 418 L1712.5 462" stroke="#ffffff" stroke-width="1.2" stroke-linecap="butt"/><path d="M1724 474 L1725 545" stroke="#ffffff" stroke-width="3" stroke-linecap="butt"/><path d="M1697 470 L1697.5 540" stroke="#ffffff" stroke-width="1.2" stroke-linecap="butt"/><path d="M1733 440 L1733.5 500" stroke="#ffffff" stroke-width="1.2" stroke-linecap="butt"/><path d="M1795 500 L1798.7 483 L1802 494 L1806.6 498 L1810 538 L1814.4 540 L1817.8 569 L1822.3 561 L1827 600 L1827 700 L1820 690 L1812 650 L1804 600 L1796 570 Z" fill="#2b86b3" stroke="none"/><path d="M1801 500 L1801.5 560" stroke="#ffffff" stroke-width="1.2"/><path d="M1546 420 L1549 425 L1553 445 L1557 420 L1558.5 440 L1556.5 522 L1553 600 L1550 600 L1548 490 Z" fill="#2b86b3" stroke="none"/></g><g font-family="Liberation Sans, sans-serif" font-size="19.7" fill="#000000" stroke="#000000" stroke-width="0.3" style="will-change:transform"><text x="64" y="16" text-anchor="end">dB</text><text x="1831" y="16">deg</text><text x="64" y="94.0" text-anchor="end">100</text><text x="1836" y="94.0">480</text><text x="64" y="209.4" text-anchor="end">90</text><text x="1836" y="209.4">360</text><text x="64" y="323.8" text-anchor="end">80</text><text x="1836" y="323.8">240</text><text x="64" y="439.4" text-anchor="end">70</text><text x="1836" y="439.4">120</text><text x="64" y="555.0" text-anchor="end">60</text><text x="1836" y="555.0">0</text><text x="64" y="669.1" text-anchor="end">50</text><text x="1836" y="669.1">-120</text><text x="75.0" y="747" text-anchor="middle">10</text><text x="234.9" y="747" text-anchor="middle">20</text><text x="328.4" y="747" text-anchor="middle">30</text><text x="394.7" y="747" text-anchor="middle">40</text><text x="446.2" y="747" text-anchor="middle">50</text><text x="488.2" y="747" text-anchor="middle">60</text><text x="523.8" y="747" text-anchor="middle">70</text><text x="554.6" y="747" text-anchor="middle">80</text><text x="606.0" y="747" text-anchor="middle">100</text><text x="765.9" y="747" text-anchor="middle">200</text><text x="859.4" y="747" text-anchor="middle">300</text><text x="925.8" y="747" text-anchor="middle">400</text><text x="977.2" y="747" text-anchor="middle">500</text><text x="1019.3" y="747" text-anchor="middle">600</text><text x="1085.6" y="747" text-anchor="middle">800</text><text x="1137.1" y="747" text-anchor="middle">1k</text><text x="1297.0" y="747" text-anchor="middle">2k</text><text x="1390.5" y="747" text-anchor="middle">3k</text><text x="1456.8" y="747" text-anchor="middle">4k</text><text x="1508.3" y="747" text-anchor="middle">5k</text><text x="1550.3" y="747" text-anchor="middle">6k</text><text x="1585.9" y="747" text-anchor="middle">7k</text><text x="1616.7" y="747" text-anchor="middle">8k</text><text x="1668.1" y="747" text-anchor="middle">10k</text><text x="1829.5" y="747" text-anchor="end">20,0k</text><text x="1836" y="747">Hz</text></g></svg>
</body></html>
